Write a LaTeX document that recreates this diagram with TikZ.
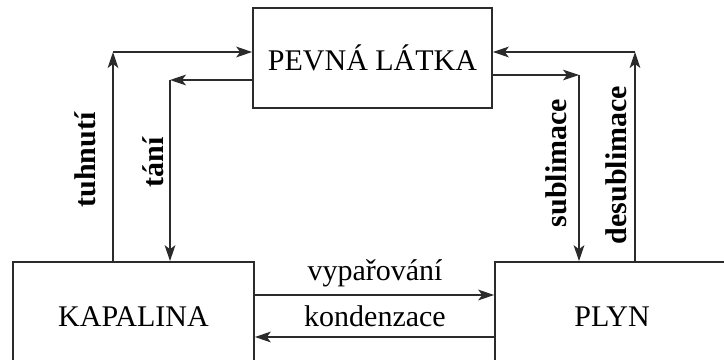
\documentclass[tikz,border=0pt]{standalone}
\usepackage{fontspec}
\setmainfont{Liberation Serif}
\usepackage{tikz}
\usetikzlibrary{arrows.meta, positioning, calc}
\definecolor{phaseline}{HTML}{2B2B2B}

\tikzset{
  phasebox/.style={draw=phaseline, line width=1.2pt, inner sep=0pt,
    font=\fontsize{22.5}{25}\selectfont},
  phasearr/.style={draw=phaseline, line width=1.2pt,
    -{Stealth[length=12pt, width=8pt, inset=3pt]}},
  phaselab/.style={font=\fontsize{22.5}{25}\selectfont\bfseries, rotate=90, inner sep=0pt},
  flowlab/.style={font=\fontsize{22.5}{25}\selectfont, inner sep=0pt}
}

\begin{document}
\begin{tikzpicture}[x=0.75pt, y=-0.75pt]
      \clip (0,0) rectangle (724,360);
      \fill[white] (0,0) rectangle (724,360);
      % boxes
      \node[phasebox, minimum width=179.25pt, minimum height=75pt] (pevna) at (372.5,58) {PEVNÁ LÁTKA};
      \node[phasebox, minimum width=180.75pt, minimum height=82.5pt] (kapalina) at (133.5,317) {KAPALINA};
      \node[phasebox, minimum width=175.5pt, minimum height=82.5pt] (plyn) at (612,317) {PLYN};
      % corners
      \coordinate (tuhC) at (113,52);
      \coordinate (tanC) at (170,80);
      \coordinate (subC) at (579,75);
      \coordinate (desC) at (635,52);
      % solid <-> liquid
      \draw[phasearr] (kapalina.north -| tuhC) -- (tuhC);
      \draw[phasearr] (tuhC) -- (tuhC -| pevna.west);
      \draw[phasearr] (tanC -| pevna.west) -- (tanC);
      \draw[phasearr] (tanC) -- (tanC |- kapalina.north);
      % solid <-> gas
      \draw[phasearr] (subC -| pevna.east) -- (subC);
      \draw[phasearr] (subC) -- (subC |- plyn.north);
      \draw[phasearr] (plyn.north -| desC) -- (desC);
      \draw[phasearr] (desC) -- (desC -| pevna.east);
      % liquid <-> gas
      \coordinate (vypC) at (374,295);
      \coordinate (konC) at (374,337);
      \draw[phasearr] (vypC -| kapalina.east) -- (vypC -| plyn.west);
      \draw[phasearr] (konC -| plyn.west) -- (konC -| kapalina.east);
      % labels
      \node[phaselab] (tuhL) at (85,160) {tuhnutí};
      \node[phaselab] (tanL) at (153,162) {tání};
      \node[phaselab] (subL) at (556,163) {sublimace};
      \node[phaselab] (desL) at (616,165) {desublimace};
      \node[flowlab] (vypL) at (375,273) {vypařování};
      \node[flowlab] (konL) at (375,316) {kondenzace};
    \end{tikzpicture}
\end{document}
